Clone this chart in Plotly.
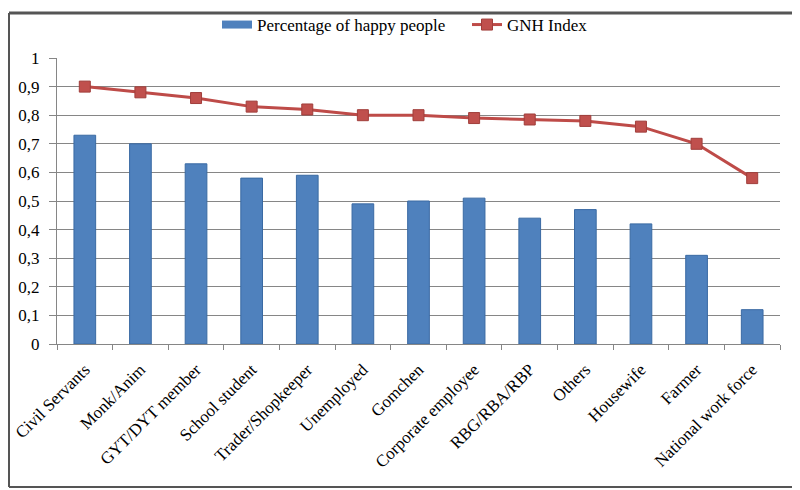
import plotly.graph_objects as go

categories = ["Civil Servants", "Monk/Anim", "GYT/DYT member", "School student",
              "Trader/Shopkeeper", "Unemployed", "Gomchen", "Corporate employee",
              "RBG/RBA/RBP", "Others", "Housewife", "Farmer", "National work force"]
happy_pct = [0.73, 0.70, 0.63, 0.58, 0.59, 0.49, 0.50, 0.51, 0.44, 0.47, 0.42, 0.31, 0.12]
gnh_index = [0.90, 0.88, 0.86, 0.83, 0.82, 0.80, 0.80, 0.79, 0.785, 0.78, 0.76, 0.70, 0.58]
y_ticks = [0, 0.1, 0.2, 0.3, 0.4, 0.5, 0.6, 0.7, 0.8, 0.9, 1]

FONT = "Liberation Serif"
BLUE = "#4F81BD"
RED = "#BE4B48"

# page has an 8px body margin; figure is sized so plot area lands where the reference has it
W, H = 792, 482
L, R, T, B = 49, 20, 50, 146
PW, PH = W - L - R, H - T - B

fig = go.Figure()
fig.add_trace(go.Bar(
    x=categories, y=happy_pct, name="Percentage of happy people",
    marker=dict(color=BLUE, line=dict(color="#3A6AA3", width=1)),
    showlegend=False,
))
# legend swatch for the bars (wide flat rectangle like the original)
fig.add_trace(go.Scatter(
    x=[None], y=[None], mode="lines", name="Percentage of happy people",
    line=dict(color=BLUE, width=8), hoverinfo="skip",
))
fig.add_trace(go.Scatter(
    x=categories, y=gnh_index, name="GNH Index", mode="lines+markers",
    line=dict(color=RED, width=3),
    marker=dict(symbol="square", size=11, color="#C0504D",
                line=dict(color="#A03E3B", width=1)),
))

bx0, bx1 = (1 - L) / PW, (W - 3 - L) / PW
by0, by1 = -(B - 3) / PH, 1 + (T - 5) / PH
border = dict(color="#555555", width=2)

fig.update_layout(
    width=W, height=H,
    margin=dict(l=L, r=R, t=T, b=B, autoexpand=False),
    paper_bgcolor="white", plot_bgcolor="white",
    separators=", ",
    font=dict(family=FONT, size=17, color="black"),
    bargap=0.61,
    showlegend=True,
    legend=dict(orientation="h", xref="container", x=209 / W, xanchor="left",
                yref="container", y=1 - 17 / H, yanchor="middle",
                entrywidth=205,
                font=dict(family=FONT, size=17), bgcolor="rgba(0,0,0,0)",
                traceorder="normal"),
    xaxis=dict(
        type="category", range=[-0.5, len(categories) - 0.5],
        tickangle=-45, tickson="boundaries",
        ticks="outside", ticklen=5, tickcolor="#868686",
        showline=True, linecolor="#868686", linewidth=1,
        showgrid=False, tickfont=dict(family=FONT, size=17),
        ticklabelstandoff=8,
    ),
    yaxis=dict(
        range=[0, 1], tickvals=y_ticks, ticks="outside", ticklen=7,
        tickcolor="#868686", showline=True, linecolor="#868686", linewidth=1,
        showgrid=True, gridcolor="#868686", gridwidth=1, zeroline=False,
        tickfont=dict(family=FONT, size=17), ticklabelstandoff=6,
    ),
    shapes=[
        dict(type="line", xref="paper", yref="paper", x0=bx0, x1=bx1, y0=by1, y1=by1,
             line=dict(color="#555555", width=3)),
        dict(type="line", xref="paper", yref="paper", x0=bx0, x1=bx1, y0=by0, y1=by0, line=border),
        dict(type="line", xref="paper", yref="paper", x0=bx0, x1=bx0, y0=by0, y1=by1, line=border),
        dict(type="line", xref="paper", yref="paper", x0=bx1, x1=bx1, y0=by0, y1=by1, line=border),
    ],
)

fig.write_html("out.html")
